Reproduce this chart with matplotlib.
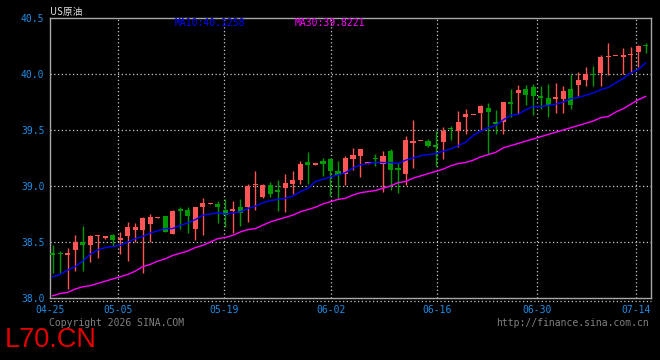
import matplotlib
matplotlib.use("Agg")
import matplotlib.pyplot as plt
import numpy as np

# daily candles (open, close, high, low)
opens = [38.40, 38.40, 38.38, 38.43, 38.50, 38.47, 38.55, 38.54, 38.56, 38.52,
         38.55, 38.61, 38.61, 38.66, 38.71, 38.73, 38.57, 38.79, 38.79, 38.62,
         38.81, 38.84, 38.84, 38.79, 38.78, 38.81, 38.81, 39.01, 38.90, 39.01,
         38.96, 38.98, 39.02, 39.05, 39.21, 39.19, 39.22, 39.24, 39.13, 39.11,
         39.24, 39.27, 39.20, 39.25, 39.20, 39.31, 39.16, 39.11, 39.38, 39.40,
         39.40, 39.37, 39.39, 39.52, 39.49, 39.62, 39.63, 39.65, 39.70, 39.57,
         39.57, 39.75, 39.83, 39.87, 39.88, 39.80, 39.79, 39.78, 39.78, 39.87,
         39.90, 39.95, 40.00, 40.01, 40.15, 40.16, 40.15, 40.17, 40.20, 40.26]
closes = [38.38, 38.39, 38.40, 38.50, 38.47, 38.55, 38.56, 38.54, 38.52, 38.53,
          38.63, 38.63, 38.71, 38.72, 38.71, 38.59, 38.78, 38.78, 38.73, 38.81,
          38.85, 38.85, 38.81, 38.74, 38.79, 38.76, 39.00, 39.02, 39.01, 38.93,
          38.95, 39.03, 39.05, 39.20, 39.19, 39.20, 39.20, 39.13, 39.10, 39.25,
          39.28, 39.33, 39.21, 39.24, 39.27, 39.14, 39.14, 39.41, 39.40, 39.40,
          39.36, 39.35, 39.49, 39.51, 39.57, 39.64, 39.63, 39.71, 39.66, 39.55,
          39.75, 39.73, 39.86, 39.81, 39.80, 39.79, 39.72, 39.79, 39.85, 39.72,
          39.95, 40.00, 39.99, 40.15, 40.15, 40.16, 40.17, 40.18, 40.25, 40.25]
highs = [38.47, 38.42, 38.45, 38.56, 38.64, 38.56, 38.56, 38.55, 38.57, 38.59,
         38.68, 38.67, 38.72, 38.75, 38.72, 38.73, 38.79, 38.81, 38.81, 38.81,
         38.89, 38.85, 38.87, 38.88, 38.87, 38.88, 39.02, 39.13, 39.02, 39.04,
         39.05, 39.11, 39.13, 39.22, 39.30, 39.20, 39.25, 39.25, 39.22, 39.27,
         39.34, 39.33, 39.21, 39.29, 39.31, 39.33, 39.21, 39.45, 39.59, 39.40,
         39.42, 39.49, 39.53, 39.54, 39.67, 39.69, 39.63, 39.72, 39.74, 39.68,
         39.75, 39.87, 39.90, 39.90, 39.91, 39.89, 39.91, 39.92, 39.89, 40.00,
         40.02, 40.06, 40.07, 40.17, 40.28, 40.16, 40.23, 40.24, 40.26, 40.28]
lows = [38.22, 38.22, 38.08, 38.24, 38.24, 38.32, 38.36, 38.53, 38.46, 38.39,
        38.33, 38.50, 38.22, 38.50, 38.71, 38.59, 38.57, 38.62, 38.58, 38.52,
        38.56, 38.84, 38.67, 38.63, 38.58, 38.64, 38.68, 38.79, 38.89, 38.90,
        38.78, 38.77, 38.93, 39.02, 39.02, 39.19, 39.09, 38.91, 38.88, 39.01,
        39.14, 39.08, 39.20, 39.18, 38.95, 38.96, 38.94, 39.01, 39.16, 39.40,
        39.35, 39.18, 39.24, 39.41, 39.35, 39.46, 39.63, 39.50, 39.29, 39.46,
        39.46, 39.62, 39.64, 39.72, 39.63, 39.69, 39.62, 39.65, 39.65, 39.69,
        39.80, 39.89, 39.89, 39.89, 39.99, 40.16, 40.00, 40.01, 40.06, 40.19]

ma10 = [38.19, 38.21, 38.25, 38.28, 38.33, 38.39, 38.43, 38.45, 38.46, 38.47,
        38.50, 38.53, 38.55, 38.58, 38.60, 38.62, 38.62, 38.65, 38.67, 38.70,
        38.74, 38.75, 38.76, 38.75, 38.76, 38.77, 38.80, 38.82, 38.85, 38.87,
        38.88, 38.89, 38.91, 38.95, 38.98, 39.04, 39.06, 39.08, 39.10, 39.12,
        39.16, 39.19, 39.20, 39.21, 39.21, 39.21, 39.20, 39.23, 39.25, 39.27,
        39.28, 39.29, 39.31, 39.33, 39.36, 39.39, 39.45, 39.49, 39.52, 39.54,
        39.59, 39.63, 39.64, 39.68, 39.71, 39.71, 39.72, 39.73, 39.75, 39.78,
        39.79, 39.81, 39.83, 39.86, 39.88, 39.92, 39.96, 40.01, 40.04, 40.10]
ma30 = [38.02, 38.04, 38.05, 38.08, 38.10, 38.11, 38.13, 38.15, 38.17, 38.19,
        38.21, 38.24, 38.28, 38.30, 38.33, 38.35, 38.38, 38.40, 38.42, 38.45,
        38.47, 38.50, 38.53, 38.54, 38.56, 38.59, 38.61, 38.62, 38.65, 38.68,
        38.70, 38.72, 38.74, 38.77, 38.79, 38.81, 38.84, 38.86, 38.88, 38.89,
        38.92, 38.94, 38.95, 38.96, 38.98, 39.00, 39.03, 39.04, 39.07, 39.09,
        39.11, 39.13, 39.15, 39.18, 39.20, 39.21, 39.23, 39.26, 39.28, 39.30,
        39.34, 39.36, 39.38, 39.40, 39.42, 39.44, 39.46, 39.48, 39.50, 39.52,
        39.54, 39.56, 39.58, 39.61, 39.62, 39.66, 39.69, 39.73, 39.77, 39.80]

date_labels = ["04-25", "05-05", "05-19", "06-02", "06-16", "06-30", "07-14"]
date_pos = [-0.36, 8.7, 22.85, 37.08, 51.2, 64.52, 77.71]
y_ticks = [38.0, 38.5, 39.0, 39.5, 40.0, 40.5]

UP = "#ff5555"
DOWN = "#009a00"
BLUE_TXT = "#1c8ee6"
MONO = "DejaVu Sans Mono"

o = np.array(opens)
c = np.array(closes)
h = np.array(highs)
l = np.array(lows)
x = np.arange(len(o))
cols = np.where(c >= o, UP, DOWN)

fig = plt.figure(figsize=(6.6, 3.6), dpi=100, facecolor="black")
ax = fig.add_axes([50 / 660, 62 / 360, 601 / 660, 280 / 360], facecolor="black")

# grid
for yv in y_ticks[1:-1]:
    ax.axhline(yv, color="#c8c8c8", lw=0.9, ls=(0, (1, 2)), zorder=1)
for xv in date_pos[1:]:
    ax.axvline(xv, color="#c8c8c8", lw=0.9, ls=(0, (1, 2)), zorder=1)

# candles
ax.vlines(x, l, h, colors=cols, lw=1.0, zorder=3)
body_lo = np.minimum(o, c)
body_h = np.maximum(np.abs(c - o), 0.012)
ax.bar(x, body_h, bottom=body_lo, width=0.68, color=cols, lw=0, zorder=4)

# moving averages
ax.plot(x, ma10, color="#0000ff", lw=1.0, zorder=5)
ax.plot(x, ma30, color="#ff00ff", lw=1.0, zorder=5)

ax.set_xlim(-0.36, 79.7)
ax.set_ylim(38.0, 40.5)
ax.set_yticks(y_ticks)
ax.set_yticklabels([f"{v:.1f}" for v in y_ticks], family=MONO, fontsize=7, color=BLUE_TXT)
ax.set_xticks(date_pos)
ax.set_xticklabels(date_labels, family=MONO, fontsize=7, color=BLUE_TXT)
ax.tick_params(length=0, pad=4)
ax.tick_params(axis="x", pad=5)
for s in ax.spines.values():
    s.set_color("#a8a8a8")
    s.set_linewidth(1.0)

# dotted line just under the bottom frame
ax.plot([0, 1], [-0.012, -0.012], transform=ax.transAxes, color="#c8c8c8",
        lw=0.9, ls=(0, (1, 2)), clip_on=False)

# texts
ft = fig.transFigure
ax.text(50 / 660, 1 - 12 / 360, "US原油", color="#e0e0e0", fontsize=7,
        family=["Noto Sans CJK SC", "DejaVu Sans"], va="center", ha="left", transform=ft)
ax.text(175 / 660, 1 - 23 / 360, "MA10:40.1258", color="#0000ff", fontsize=7,
        family=MONO, va="center", ha="left", transform=ft, zorder=10)
ax.text(295 / 660, 1 - 23 / 360, "MA30:39.8221", color="#ff00ff", fontsize=7,
        family=MONO, va="center", ha="left", transform=ft, zorder=10)
fig.text(49 / 660, 1 - 323.5 / 360, "Copyright 2026 SINA.COM", color="#808080",
         fontsize=7, family=MONO, va="center", ha="left")
fig.text(649 / 660, 1 - 323.5 / 360, "http://finance.sina.com.cn", color="#808080",
         fontsize=7, family=MONO, va="center", ha="right")
fig.text(5 / 660, 1 - 340 / 360, "L70.CN", color="#e60000", fontsize=19.5,
         family="Liberation Sans", va="center", ha="left")

fig.savefig("out.png", dpi=100, facecolor="black")
